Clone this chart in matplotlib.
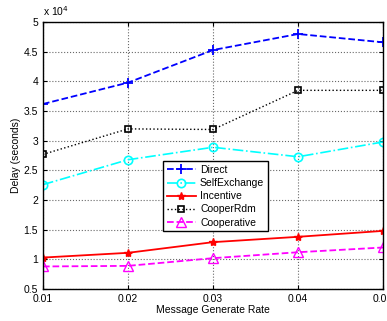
import matplotlib.pyplot as plt
import numpy as np

plt.rcParams['font.family'] = ['Liberation Sans', 'DejaVu Sans']
plt.rcParams['font.size'] = 7.5

# Messwerte (Delay in 1e4 Sekunden)
rate = [0.01, 0.02, 0.03, 0.04, 0.05]
direct = [3.62, 3.98, 4.53, 4.80, 4.66]
selfexchange = [2.26, 2.68, 2.89, 2.73, 2.98]
incentive = [1.03, 1.11, 1.29, 1.38, 1.48]
cooperrdm = [2.77, 3.20, 3.19, 3.85, 3.85]
cooperative = [0.88, 0.89, 1.02, 1.12, 1.20]

fig = plt.figure(figsize=(3.87, 3.21), dpi=100)
ax = fig.add_axes([0.111, 0.0997, 0.879, 0.8313])

ax.plot(rate, direct, '--', color='blue', marker='+', markersize=7, mew=1.3, lw=1.3, label='Direct')
ax.plot(rate, selfexchange, '-.', color='cyan', marker='o', mfc='none', markersize=6, mew=1.2, lw=1.2, label='SelfExchange')
ax.plot(rate, incentive, '-', color='red', marker='*', markersize=6, mew=1.0, lw=1.3, label='Incentive')
ax.plot(rate, cooperrdm, ':', color='black', marker='s', mfc='none', markersize=5, mew=1.2, lw=1.0, label='CooperRdm')
ax.plot(rate, cooperative, '--', color='magenta', marker='^', mfc='none', markersize=7, mew=1.0, lw=1.3, label='Cooperative')

ax.set_xlim(0.01, 0.05)
ax.set_ylim(0.5, 5)
ax.set_xticks(rate)
ax.set_xticklabels(['0.01', '0.02', '0.03', '0.04', '0.05'])
ax.set_yticks(np.arange(0.5, 5.01, 0.5))
ax.set_yticklabels(['0.5', '1', '1.5', '2', '2.5', '3', '3.5', '4', '4.5', '5'])
ax.tick_params(direction='in', top=True, right=True, length=3)
ax.grid(True, linestyle=':', color='dimgray', lw=0.8)
for s in ax.spines.values():
    s.set_linewidth(1.0)

ax.set_xlabel('Message Generate Rate', labelpad=1)
ax.set_ylabel('Delay (seconds)', labelpad=2)
ax.text(0.0, 1.015, r'x 10$^4$', transform=ax.transAxes, ha='left', va='bottom')

leg = ax.legend(loc='upper left', bbox_to_anchor=(0.353, 0.478), fancybox=False,
                edgecolor='black', framealpha=1, borderpad=0.35, labelspacing=0.3,
                handlelength=2.8, handletextpad=0.4, borderaxespad=0)
leg.get_frame().set_linewidth(1.0)

plt.savefig('out.png', dpi=100)
